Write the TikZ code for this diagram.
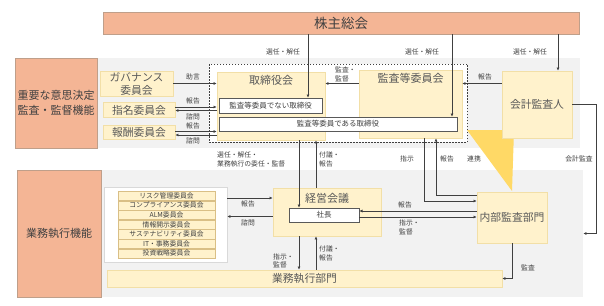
\documentclass[tikz,border=0pt]{standalone}
\usepackage{fontspec}
\setmainfont{Noto Sans CJK JP}
\usetikzlibrary{arrows.meta,positioning}
\definecolor{salmon}{HTML}{F4B595}
\definecolor{salmonln}{HTML}{BF9F8A}
\definecolor{cream}{HTML}{FFF2CC}
\definecolor{creamln}{HTML}{F2DFA7}
\definecolor{tanln}{HTML}{D9BF86}
\definecolor{bandgray}{HTML}{F2F2F2}
\definecolor{gold}{HTML}{FFD966}
\definecolor{ink}{HTML}{404040}
\definecolor{ttlink}{HTML}{595959}
\begin{document}
\begin{tikzpicture}[x=1pt,y=-1pt,
  every node/.style={font=\fontsize{6.8}{8.5}\selectfont,text=ink,inner sep=0pt},
  side/.style={fill=salmon,draw=salmonln,line width=0.6pt,align=center,font=\fontsize{11}{15}\selectfont},
  bandbox/.style={fill=bandgray,draw=none},
  org/.style={fill=cream,draw=creamln,line width=0.5pt,align=center,font=\fontsize{10.8}{13}\selectfont,text=ttlink},
  seat/.style={fill=white,draw=ttlink,line width=0.6pt,font=\fontsize{7.5}{9}\selectfont},
  cmt/.style={fill=cream,draw=tanln,line width=0.5pt,minimum width=97pt,minimum height=9.2pt,font=\fontsize{6.8}{8}\selectfont},
  ttl/.style={anchor=north,yshift=-3pt,font=\fontsize{11}{13}\selectfont,text=ttlink},
  lbl/.style={align=left,anchor=west},
  ar/.style={-{Latex[length=3.2pt,width=3pt]},line width=0.6pt,draw=ink}]
\useasboundingbox (0,0) rectangle (604,305);
\node[bandbox,minimum width=483pt,minimum height=90pt] (band1) at (338.5,103) {};
\node[bandbox,minimum width=482pt,minimum height=127pt] (band2) at (342,233.5) {};
\node[side,minimum width=476pt,minimum height=22pt,font=\fontsize{13.5}{15}\selectfont] (kabu) at (341,23) {株主総会};
\node[side,minimum width=82pt,minimum height=90pt] (imp) at (56,103) {重要な意思決定\\監査・監督機能};
\node[side,minimum width=84pt,minimum height=127pt] (biz) at (59,233.5) {業務執行機能};
\fill[gold] (467,130) -- (514,130) -- (512,191) -- cycle;
\node[draw=ink,fill=white,line width=0.5pt,dash pattern=on 1.5pt off 1.5pt,minimum width=258pt,minimum height=78pt] (frame) at (338,103) {};
\node[org,minimum width=73pt,minimum height=25pt] (gov) at (136.5,83.5) {ガバナンス\\委員会};
\node[org,minimum width=72pt,minimum height=15pt] (nom) at (139,110) {指名委員会};
\node[org,minimum width=72pt,minimum height=14pt] (rem) at (139,132) {報酬委員会};
\node[org,minimum width=108pt,minimum height=68pt,label={[ttl]north:取締役会}] (board) at (271,106) {};
\node[org,minimum width=103pt,minimum height=68pt,label={[ttl]north:監査等委員会}] (audc) at (410.5,104) {};
\node[org,minimum width=70pt,minimum height=67pt] (acct) at (537,104.5) {会計監査人};
\node[seat,minimum width=103pt,minimum height=15pt] (nonaud) at (270.5,105.5) {監査等委員でない取締役};
\node[seat,minimum width=238pt,minimum height=14pt] (aud) at (338,124) {監査等委員である取締役};
\node[fill=white,draw=black!15,line width=0.5pt,minimum width=123pt,minimum height=75pt] (cwrap) at (165.5,224.5) {};
\foreach \c [count=\i from 0] in {リスク管理委員会,コンプライアンス委員会,ALM委員会,情報開示委員会,サステナビリティ委員会,IT・事務委員会,投資戦略委員会}
  \node[cmt] (c\i) at (166.5,195.8+9.6*\i) {\c};
\node[org,minimum width=108pt,minimum height=48pt,label={[ttl,yshift=-2pt]north:経営会議}] (mgmt) at (327,212) {};
\node[seat,minimum width=70pt,minimum height=14pt] (pres) at (324,215) {社長};
\node[org,minimum width=70pt,minimum height=51pt] (ia) at (512,217.5) {内部監査部門};
\node[org,minimum width=395pt,minimum height=17pt] (exec) at (304.5,278.5) {業務執行部門};
\foreach \x/\y in {308/nonaud,452/aud,558/acct} \draw[ar] (\x,0 |- kabu.south) -- (\x,0 |- \y.north);
\foreach \x in {283,422,530} \node at (\x,52) {選任・解任};
\draw[ar] (gov.east) -- (gov.east -| board.west);
\node at (193,77) {助言};
\foreach \y/\a/\b in {nom/107/110.5,rem/131.5/135}{
  \draw[ar] (\y.east |- 0,\a) -- (board.west |- 0,\a);
  \draw[ar] (board.west |- 0,\b) -- (\y.east |- 0,\b);}
\foreach \y/\w in {101/報告,116.5/諮問,125.5/報告,140.5/諮問} \node at (193,\y) {\w};
\draw[ar] (audc.west |- gov.east) -- (board.east |- gov.east);
\node[lbl] at (335,74.5) {監査・\\監督};
\draw[ar] (acct.west |- gov.east) -- (audc.east |- gov.east);
\node at (485,77) {報告};
\draw[ar] (299,0 |- board.south) -- (299,0 |- pres.north);
\draw[ar] (316,0 |- mgmt.north) -- (316,0 |- board.south);
\draw[ar] (316,0 |- exec.north) -- (316,0 |- mgmt.south);
\draw[ar] (299,0 |- mgmt.south) -- (299,0 |- exec.north);
\node[lbl] at (217,159.5) {選任・解任・\\業務執行の委任・監督};
\node[lbl] at (319,159.5) {付議・\\報告};
\node[lbl] at (319,253.5) {付議・\\報告};
\node[lbl] at (273,261) {指示・\\監督};
\draw[ar] (cwrap.east |- 0,198) -- (mgmt.west |- 0,198);
\draw[ar] (mgmt.west |- 0,216.5) -- (cwrap.east |- 0,216.5);
\node at (248,204) {報告};
\node at (248,223) {諮問};
\draw[ar] (ia.west |- 0,211) -- (pres.east |- 0,211);
\draw[ar] (pres.east |- 0,217) -- (ia.west |- 0,217);
\node at (405,205) {報告};
\node[lbl] at (399,227.5) {指示・\\監督};
\draw[ar] (424,0 |- audc.south) |- (ia.west |- 0,201);
\draw[ar] (ia.west |- 0,195) -| (436,0 |- audc.south);
\node at (407,159) {指示};
\node at (447,159) {報告};
\node at (474,159) {連携};
\draw[ar] (acct.east) -- (596,0 |- acct.east) |- (band2.east);
\node at (579,159) {会計監査};
\draw[ar] (ia.south) |- (exec.east);
\node at (528,268) {監査};
\end{tikzpicture}
\end{document}
